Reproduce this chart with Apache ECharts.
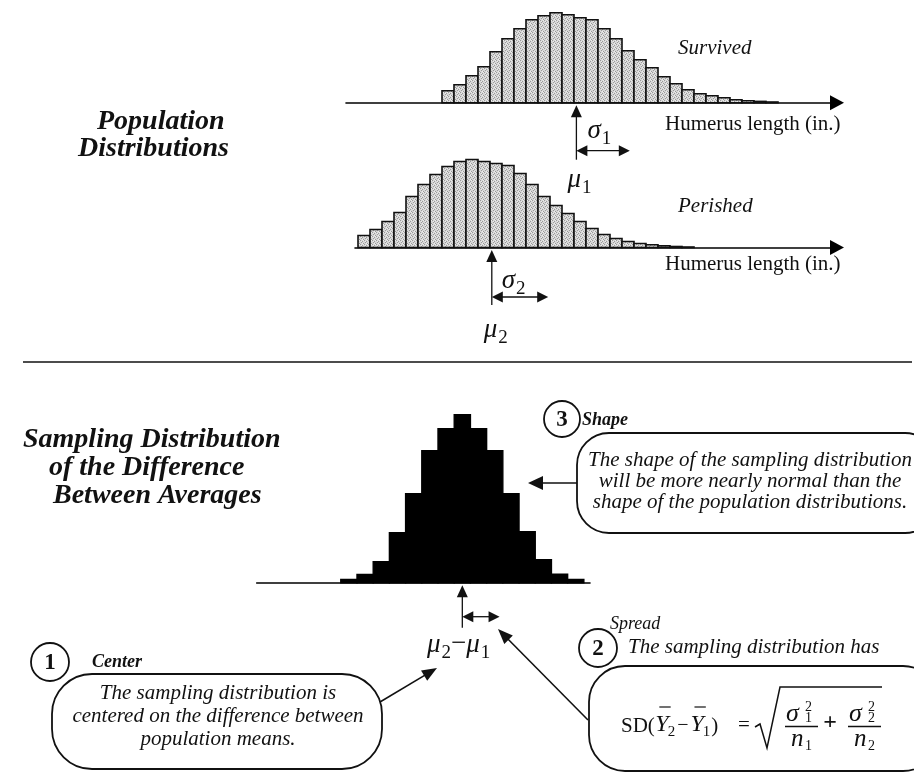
<!DOCTYPE html>
<html>
<head>
<meta charset="utf-8">
<script src="https://cdn.jsdelivr.net/npm/echarts@6.0.0/dist/echarts.min.js"></script>
<style>html,body{margin:0;padding:0;background:#fff;}#chart{width:914px;height:775px;}</style>
</head>
<body>
<div id="chart"></div>
<script>
// ---------------- data ----------------
const survivedFirstBin = 8;
const survivedHeights = [12, 18, 27, 36, 51, 64, 74, 83, 87, 90, 88, 85, 83, 74, 64, 52, 43, 35, 26, 19, 13, 9, 7, 5, 3, 2, 1.3, 0.7];
const perishedFirstBin = 1;
const perishedHeights = [12, 18, 26, 35, 51, 63, 73, 81, 86, 88, 86, 84, 82, 74, 63, 51, 42, 34, 26, 19, 13, 9, 6, 4, 2.7, 1.7, 1, 0.5];
const diffFirstBin = -7.5;
const diffHeights = [3.3, 8.3, 21, 50, 89, 132, 154, 168, 154, 132, 89, 51, 23, 8.5, 3.3];
const mu1 = 19.2, sigma1 = 4.45;
const mu2 = 12.15, sigma2 = 4.7;
const muDiff = 0, sdDiff = 2.3;
const axisTitle = 'Humerus length (in.)';
const groupTitles = ['Survived', 'Perished'];
const sectionTitles = [['Population', 'Distributions'], ['Sampling Distribution', 'of the Difference', 'Between Averages']];
const boxHeads = ['Center', 'Spread', 'Shape'];
const boxTexts = [
  ['The sampling distribution is', 'centered on the difference between', 'population means.'],
  ['The sampling distribution has'],
  ['The shape of the sampling distribution', 'will be more nearly normal than the', 'shape of the population distributions.']
];

// ---------------- chart ----------------
const SERIF = "'Liberation Serif','DejaVu Serif',serif";
const chart = echarts.init(document.getElementById('chart'));

// stippled grey texture (deterministic pattern)
const tile = document.createElement('canvas');
tile.width = 4; tile.height = 4;
(function () {
  const t = tile.getContext('2d');
  t.fillStyle = '#d6d6d6'; t.fillRect(0, 0, 4, 4);
  t.fillStyle = '#9a9a9a';
  [[0, 0], [2, 1], [1, 2], [3, 3]].forEach(p => t.fillRect(p[0], p[1], 1, 1));
  t.fillStyle = '#ececec';
  [[3, 0], [1, 1], [2, 3]].forEach(p => t.fillRect(p[0], p[1], 1, 1));
})();
const stipple = { image: tile, repeat: 'repeat' };

function histSeries(idx, first, heights, fill, stroke, lw) {
  return {
    type: 'custom', xAxisIndex: idx, yAxisIndex: idx, clip: false,
    data: heights.map((h, i) => [first + i, first + i + 1, h]),
    encode: { x: [0, 1], y: 2 },
    renderItem: function (params, api) {
      const a = api.coord([api.value(0), api.value(2)]);
      const b = api.coord([api.value(1), 0]);
      return { type: 'rect', shape: { x: a[0], y: a[1], width: b[0] - a[0], height: b[1] - a[1] },
               style: { fill: fill, stroke: stroke, lineWidth: lw } };
    }
  };
}
function xAx(grid, min, max, arrow) {
  return { gridIndex: grid, type: 'value', min: min, max: max,
    axisLine: { show: true, onZero: false, lineStyle: { color: '#000', width: 1.6 },
      symbol: arrow ? ['none', 'triangle'] : ['none', 'none'], symbolSize: [15, 14] },
    axisTick: { show: false }, axisLabel: { show: false }, splitLine: { show: false } };
}
function yAx(grid, max) {
  return { gridIndex: grid, type: 'value', min: 0, max: max, show: false };
}

chart.setOption({
  animation: false,
  grid: [
    { left: 346, top: 2.7, width: 491, height: 100 },
    { left: 355, top: 147.5, width: 482, height: 100 },
    { left: 256.7, top: 402.7, width: 333.3, height: 180 }
  ],
  xAxis: [xAx(0, 0, 40.917, true), xAx(1, 0.75, 40.917, true), xAx(2, -12.69, 7.88, false)],
  yAxis: [yAx(0, 100), yAx(1, 100), yAx(2, 180)],
  series: [
    histSeries(0, survivedFirstBin, survivedHeights, stipple, '#111', 1.6),
    histSeries(1, perishedFirstBin, perishedHeights, stipple, '#111', 1.6),
    histSeries(2, diffFirstBin, diffHeights, '#000', '#000', 1.4)
  ]
});

// ---------------- annotations ----------------
const ctx = document.createElement('canvas').getContext('2d');
function mw(text, font) { ctx.font = font; return ctx.measureText(text).width; }
function fnt(size, italic, bold) { return (italic ? 'italic ' : '') + (bold ? 'bold ' : '') + size + 'px ' + SERIF; }
const G = [];
function T(x, y, text, font, align) {
  G.push({ type: 'text', x: x, y: y, z: 10, style: { text: text, font: font, fill: '#111',
    align: align || 'left', textAlign: align || 'left', verticalAlign: 'middle', textVerticalAlign: 'middle' } });
}
// baseline-positioned text
function TB(x, base, text, size, italic, bold, align) {
  T(x, base - 0.33 * size, text, fnt(size, italic, bold), align);
}
function seg(a, b, w) {
  G.push({ type: 'line', z: 10, shape: { x1: a[0], y1: a[1], x2: b[0], y2: b[1] }, style: { stroke: '#111', lineWidth: w || 1.5 } });
}
function head(tip, from, len, hw) {
  const dx = tip[0] - from[0], dy = tip[1] - from[1], L = Math.hypot(dx, dy);
  const ux = dx / L, uy = dy / L, bx = tip[0] - ux * len, by = tip[1] - uy * len;
  G.push({ type: 'polygon', z: 10, shape: { points: [tip, [bx - uy * hw, by + ux * hw], [bx + uy * hw, by - ux * hw]] }, style: { fill: '#111' } });
}
function arrow(from, tip, len, hw, w) {
  const dx = tip[0] - from[0], dy = tip[1] - from[1], L = Math.hypot(dx, dy);
  seg(from, [tip[0] - dx / L * (len - 2), tip[1] - dy / L * (len - 2)], w);
  head(tip, from, len, hw);
}
function symLabel(x, base, main, sub, size) {
  TB(x, base, main, size, true, false);
  TB(x + mw(main, fnt(size, true, false)) + 1, base + size * 0.22, sub, Math.round(size * 0.72), false, false);
}
function meanMarks(gi, mu, sd, shaftLen, sdY) {
  const p = chart.convertToPixel({ gridIndex: gi }, [mu, 0]);
  const q = chart.convertToPixel({ gridIndex: gi }, [mu + sd, 0]);
  const x = p[0], y0 = p[1];
  arrow([x, y0 + shaftLen], [x, y0 + 2.5], 12, 5.5, 1.3);
  seg([x + 10, y0 + sdY], [q[0] - 10, y0 + sdY], 1.3);
  head([x, y0 + sdY], [x + 20, y0 + sdY], 11, 5.5);
  head([q[0], y0 + sdY], [q[0] - 20, y0 + sdY], 11, 5.5);
  return [x, y0, q[0]];
}

// Population section
let m1 = meanMarks(0, mu1, sigma1, 57, 48);
symLabel(m1[0] + 11, m1[1] + 37, 'σ', '1', 27);
symLabel(m1[0] - 9, m1[1] + 86, 'μ', '1', 27);
let m2 = meanMarks(1, mu2, sigma2, 57.5, 49.5);
symLabel(m2[0] + 10, m2[1] + 42, 'σ', '2', 27);
symLabel(m2[0] - 8, m2[1] + 91, 'μ', '2', 27);

TB(678, 55, groupTitles[0], 21, true, false);
TB(678, 213, groupTitles[1], 21, true, false);
TB(665, 131, axisTitle, 21, false, false);
TB(665, 271, axisTitle, 21, false, false);

TB(97, 131, sectionTitles[0][0], 28, true, true);
TB(78, 158, sectionTitles[0][1], 28, true, true);

// separator
seg([23, 362], [912, 362], 1.6);

TB(23, 449, sectionTitles[1][0], 28, true, true);
TB(49, 477, sectionTitles[1][1], 28, true, true);
TB(53, 505, sectionTitles[1][2], 28, true, true);

// sampling distribution center mark
const md = meanMarks(2, muDiff, sdDiff, 45, 34);
(function () {
  const size = 27, base = md[1] + 71;
  const fi = fnt(size, true, false), fs = fnt(19, false, false);
  const wMu = mw('μ', fi), w2 = mw('2', fs), wm = mw('−', fnt(size, false, false));
  const total = wMu * 2 + w2 * 2 + wm + 2;
  let x = md[0] + 28 - total;
  TB(x, base, 'μ', size, true, false); x += wMu + 1;
  TB(x, base + 6, '2', 19, false, false); x += w2;
  TB(x, base - 1, '−', size, false, false); x += wm;
  TB(x, base, 'μ', size, true, false); x += wMu + 1;
  TB(x, base + 6, '1', 19, false, false);
})();

// rounded boxes
function box(x, y, w, h, r) {
  G.push({ type: 'rect', z: 5, shape: { x: x, y: y, width: w, height: h, r: r }, style: { fill: '#fff', stroke: '#111', lineWidth: 1.8 } });
}
function numCircle(cx, cy, r, n) {
  G.push({ type: 'circle', z: 8, shape: { cx: cx, cy: cy, r: r }, style: { fill: '#fff', stroke: '#111', lineWidth: 1.8 } });
  T(cx, cy + 1, n, fnt(23, false, true), 'center');
}

// Box 3 : Shape
box(577, 433, 360, 100, 32);
numCircle(562, 419, 18, '3');
TB(582, 426, boxHeads[2], 18, true, true);
boxTexts[2].forEach((s, i) => TB(750, 467 + i * 21, s, 21, true, false, 'center'));
arrow([577, 483], [528, 483], 15, 7, 1.6);

// Box 1 : Center
box(52, 674, 330, 95, 40);
numCircle(50, 662, 19, '1');
TB(92, 668, boxHeads[0], 18, true, true);
boxTexts[0].forEach((s, i) => TB(218, 700 + i * 23, s, 21, true, false, 'center'));
arrow([380, 702], [437, 668], 15, 6, 1.6);

// Box 2 : Spread
box(589, 666, 350, 105, 36);
numCircle(598, 648, 19, '2');
TB(610, 630, boxHeads[1], 18, true, false);
TB(628, 654, boxTexts[1][0], 21, true, false);
arrow([588, 720], [498, 629], 15, 6, 1.6);

// formula SD(Y2 - Y1) = sqrt(s1^2/n1 + s2^2/n2)
(function () {
  const b = 733;
  let x = 621;
  TB(x, b, 'SD(', 21); x += mw('SD(', fnt(21)) + 0.5;
  const yw = mw('Y', fnt(24, true));
  TB(x, b, 'Y', 24, true); seg([x + 4, 707], [x + yw + 2, 707], 1.2); x += yw - 1;
  TB(x, b + 4, '2', 15); x += mw('2', fnt(15)) + 2;
  TB(x, b - 1, '−', 20); x += mw('−', fnt(20)) + 2;
  TB(x, b, 'Y', 24, true); seg([x + 4, 707], [x + yw + 2, 707], 1.2); x += yw - 1;
  TB(x, b + 4, '1', 15); x += mw('1', fnt(15)) + 1;
  TB(x, b, ')', 21);
  TB(738, b - 1, '=', 21);
  G.push({ type: 'polyline', z: 10, shape: { points: [[755, 727], [760, 724], [767, 748], [780, 687], [882, 687]] },
    style: { stroke: '#111', lineWidth: 1.5, fill: null } });
  function frac(x0, sub) {
    TB(x0 + 1, 723, 'σ', 26, true);
    TB(x0 + 20, 712, '2', 14);
    TB(x0 + 20, 723, sub, 14);
    seg([x0, 726.5], [x0 + 33, 726.5], 1.3);
    TB(x0 + 6, 748, 'n', 25, true);
    TB(x0 + 20, 751, sub, 14);
  }
  frac(785, '1');
  T(830, 723, '+', fnt(24, false, true), 'center');
  frac(848, '2');
})();

chart.setOption({ graphic: G });
</script>
</body>
</html>
